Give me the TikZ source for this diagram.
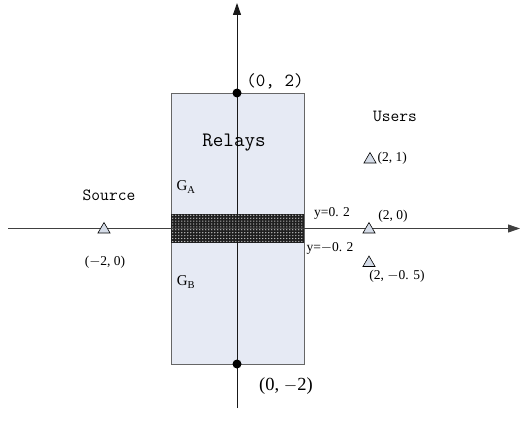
\documentclass[tikz,border=0pt]{standalone}
\usepackage{fontspec}
\setmainfont{Liberation Serif}
\usetikzlibrary{arrows.meta,shapes.geometric}
\definecolor{relayfill}{HTML}{E6EAF4}
\definecolor{trifill}{HTML}{D5DCE8}
\tikzset{
  axis/.style={draw=black!75, line width=0.9pt, -{Triangle[length=12pt,width=8pt]}},
  user/.style={draw=black, fill=trifill, regular polygon, regular polygon sides=3,
    minimum size=14pt, inner sep=0pt, line width=0.6pt},
  dotmark/.style={circle, fill=black, minimum size=9pt, inner sep=0pt},
  coord/.style={font=\fontsize{13.5}{15}\selectfont, inner sep=0pt},
  bigmono/.style={font=\ttfamily\fontsize{18.5}{20}\selectfont, inner sep=0pt},
  label/.style={font=\ttfamily\fontsize{17}{19}\selectfont, inner sep=0pt},
  glabel/.style={font=\fontsize{15}{17}\selectfont, inner sep=0pt},
}
\begin{document}
\begin{tikzpicture}[x=1pt,y=-1pt]
\useasboundingbox (0,0) rectangle (521,436);
% relay region
\node[draw=black!60, fill=relayfill, line width=0.8pt, minimum width=133pt,
  minimum height=271pt, inner sep=0pt] (relays) at (237.5,228.5) {};
% strip |y| < 0.2: dark band with a grid of light dots
\fill[black!88] (171,214) rectangle (304,243);
\foreach \i in {0,...,43} {
  \foreach \j in {0,...,9} {
    \fill[white!85!black] (172.8+3*\i,215.3+2.9*\j) circle[radius=0.65pt];
  }
}
% axes
\coordinate (xl) at (8,228.5);
\coordinate (xr) at (520,228.5);
\coordinate (yb) at (237,408);
\coordinate (yt) at (237,3);
\draw[axis] (xl) -- (xr);
\draw[axis, draw=black!90] (yb) -- (yt);
% end points of the relay strip on the y axis
\node[dotmark] (top) at (237,93) {};
\node[dotmark] (bot) at (237,364) {};
\node[bigmono] (toplab) at (275,81) {(0, 2)};
\node[font=\fontsize{18.5}{20}\selectfont, inner sep=0pt] (botlab) at (286,386) {(0, $-$2)};
% texts
\node[font=\ttfamily\fontsize{20.5}{22}\selectfont, inner sep=0pt] (rlab) at (234,143) {Relays};
\node[label] (ulab) at (395,116) {Users};
\node[label] (slab) at (109,195) {Source};
\node[glabel] (ga) at (186,187) {G\textsubscript{A}};
\node[glabel] (gb) at (186,282) {G\textsubscript{B}};
\node[coord] (yp) at (332,213) {y=0. 2};
\node[coord] (ym) at (330,248) {y=$-$0. 2};
% source and users
\node[user] (src) at (104,229.5) {};
\node[coord] (srclab) at (105,262) {($-$2, 0)};
\node[user] (u1) at (370,159.5) {};
\node[coord, anchor=west] (u1lab) at (377.5,158) {(2, 1)};
\node[user] (u2) at (369,229.5) {};
\node[coord] (u2lab) at (393,216) {(2, 0)};
\node[user] (u3) at (369,263) {};
\node[coord] (u3lab) at (397,276) {(2, $-$0. 5)};
\end{tikzpicture}
\end{document}
